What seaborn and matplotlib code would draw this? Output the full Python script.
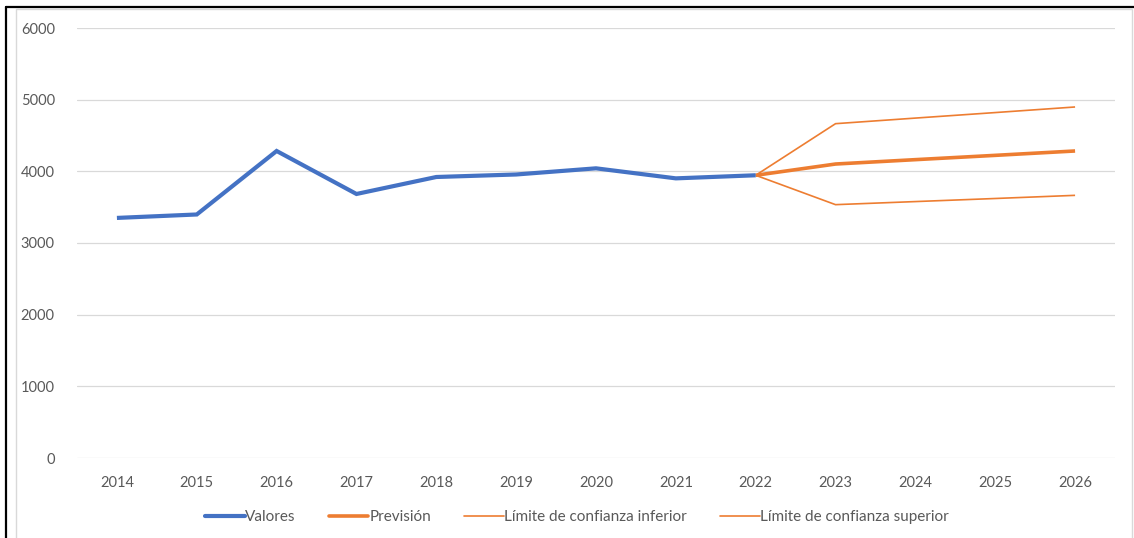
import matplotlib
matplotlib.use("Agg")
import matplotlib.pyplot as plt
from matplotlib.lines import Line2D
from matplotlib.patches import Rectangle
import seaborn as sns
import pandas as pd

# Observed series
years_obs = [2014, 2015, 2016, 2017, 2018, 2019, 2020, 2021, 2022]
valores = [3350, 3398, 4284, 3684, 3921, 3956, 4042, 3902, 3945]

# Forecast and confidence bounds (anchored at last observation)
years_fc = [2022, 2023, 2024, 2025, 2026]
prevision = [3945, 4102, 4163, 4223, 4284]
lim_inf = [3945, 3535, 3578, 3621, 3665]
lim_sup = [3945, 4665, 4743, 4820, 4898]

x_ticks = list(range(2014, 2027))
y_ticks = [0, 1000, 2000, 3000, 4000, 5000, 6000]

labels = ["Valores", "Previsión", "Límite de confianza inferior", "Límite de confianza superior"]

df = pd.concat([
    pd.DataFrame({"Año": years_obs, "Valor": valores, "Serie": labels[0]}),
    pd.DataFrame({"Año": years_fc, "Valor": prevision, "Serie": labels[1]}),
    pd.DataFrame({"Año": years_fc, "Valor": lim_inf, "Serie": labels[2]}),
    pd.DataFrame({"Año": years_fc, "Valor": lim_sup, "Serie": labels[3]}),
], ignore_index=True)

sns.set_theme(style="white")
plt.rcParams["font.family"] = ["Lato", "DejaVu Sans"]

BLUE = "#4472C4"
ORANGE = "#ED7D31"
TICK = "#595959"
GRID = "#D9D9D9"
FS_TICK = 10.5
FS_LEG = 11

fig = plt.figure(figsize=(11.34, 5.38), dpi=100)
ax = fig.add_axes([77 / 1134, 1 - 458 / 538, (1115 - 77) / 1134, 430 / 538])

palette = {labels[0]: BLUE, labels[1]: ORANGE, labels[2]: ORANGE, labels[3]: ORANGE}
widths = {labels[0]: 3.0, labels[1]: 2.6, labels[2]: 1.2, labels[3]: 1.2}

# draw the confidence bounds first, then forecast, then observed values
for name in [labels[2], labels[3], labels[1], labels[0]]:
    sub = df[df["Serie"] == name]
    sns.lineplot(data=sub, x="Año", y="Valor", ax=ax, color=palette[name],
                 linewidth=widths[name], legend=False, solid_capstyle="butt",
                 solid_joinstyle="miter")

ax.set_xlim(2013.5, 2026.5)
ax.set_ylim(0, 6000)
ax.set_xticks(x_ticks)
ax.set_yticks(y_ticks)
ax.set_xticklabels([str(t) for t in x_ticks], color=TICK, fontsize=FS_TICK)
ax.set_yticklabels([str(t) for t in y_ticks], color=TICK, fontsize=FS_TICK)
ax.tick_params(axis="x", length=0, pad=13)
ax.tick_params(axis="y", length=0, pad=16)
ax.set_xlabel("")
ax.set_ylabel("")
ax.grid(axis="y", color=GRID, linewidth=0.9)
ax.grid(axis="x", visible=False)
ax.set_axisbelow(True)
for s in ax.spines.values():
    s.set_visible(False)

# Legend
handles = [
    Line2D([], [], color=BLUE, linewidth=3.0),
    Line2D([], [], color=ORANGE, linewidth=2.6),
    Line2D([], [], color=ORANGE, linewidth=1.2),
    Line2D([], [], color=ORANGE, linewidth=1.2),
]
fig.legend(handles, labels, loc="center", bbox_to_anchor=(577 / 1134, 1 - 517 / 538),
           ncol=4, frameon=False, fontsize=FS_LEG, handlelength=2.6, handletextpad=0.05,
           columnspacing=2.15, labelcolor=TICK)

# Chart frame: inner light border and outer dark border
fig.patches.append(Rectangle((16 / 1134, -0.01), (1132 - 16) / 1134, 1 - 9 / 538 + 0.01,
                             transform=fig.transFigure, fill=False,
                             edgecolor="#D9D9D9", linewidth=1.0))
fig.add_artist(Line2D([6 / 1134, 6 / 1134], [0, 1 - 7 / 538], transform=fig.transFigure,
                      color="black", linewidth=1.6))
fig.add_artist(Line2D([6 / 1134, 1], [1 - 7 / 538, 1 - 7 / 538], transform=fig.transFigure,
                      color="black", linewidth=1.6))

fig.savefig("out.png", dpi=100)
